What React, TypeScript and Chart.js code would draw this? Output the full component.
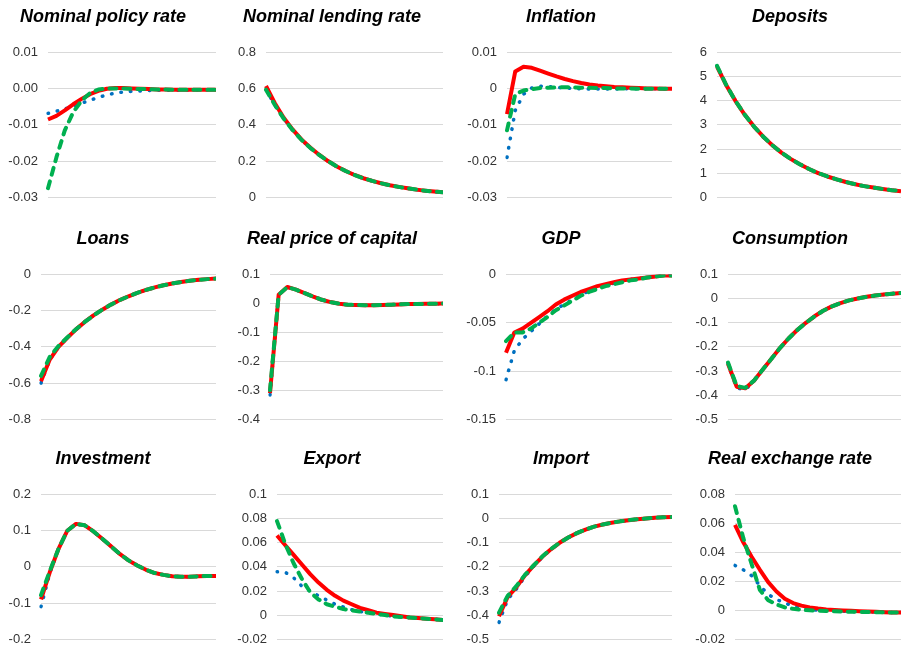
import React, { useEffect, useRef } from "react";
import { Chart, registerables } from "chart.js";

Chart.register(...registerables);

// ---------- categories (periods) ----------
const periods = ["1", "2", "3", "4", "5", "6", "7", "8", "9", "10", "11", "12", "13", "14", "15", "16", "17", "18", "19", "20", "21"];

// ---------- series values ----------
const policyRed = [-0.0085, -0.0075, -0.006, -0.0043, -0.0028, -0.0015, -0.0006, 0.0, 0.0002, 0.0002, 0.0001, 0.0, -0.0001, -0.0002, -0.0002, -0.0003, -0.0003, -0.0003, -0.0003, -0.0003, -0.0003];
const policyBlue = [-0.0068, -0.0062, -0.0056, -0.0048, -0.004, -0.0032, -0.0024, -0.0017, -0.0012, -0.0009, -0.0007, -0.0006, -0.0005, -0.0004, -0.0004, -0.0004, -0.0004, -0.0003, -0.0003, -0.0003, -0.0003];
const policyGreen = [-0.0275, -0.019, -0.0115, -0.0065, -0.0033, -0.0012, -0.0002, 0.0001, 0.0001, 0.0001, 0.0, -0.0001, -0.0001, -0.0002, -0.0002, -0.0003, -0.0003, -0.0003, -0.0003, -0.0003, -0.0003];

const lendingRed = [0.615, 0.52, 0.44, 0.375, 0.32, 0.275, 0.235, 0.2, 0.17, 0.145, 0.123, 0.105, 0.09, 0.077, 0.066, 0.057, 0.049, 0.042, 0.036, 0.031, 0.027];
const lendingBlue = [0.595, 0.51, 0.435, 0.372, 0.318, 0.273, 0.234, 0.2, 0.17, 0.145, 0.123, 0.105, 0.09, 0.077, 0.066, 0.057, 0.049, 0.042, 0.036, 0.031, 0.027];
const lendingGreen = [0.595, 0.51, 0.435, 0.372, 0.318, 0.273, 0.234, 0.2, 0.17, 0.145, 0.123, 0.105, 0.09, 0.077, 0.066, 0.057, 0.049, 0.042, 0.036, 0.031, 0.027];

const inflationRed = [-0.007, 0.0048, 0.0061, 0.0058, 0.005, 0.0042, 0.0034, 0.0027, 0.0021, 0.0016, 0.0012, 0.0009, 0.0007, 0.0005, 0.0004, 0.0003, 0.0002, 0.0001, 0.0001, 0.0, 0.0];
const inflationBlue = [-0.019, -0.006, -0.0015, 0.0002, 0.0007, 0.0006, 0.0004, 0.0002, 0.0001, 0.0, -0.0001, -0.0001, -0.0001, -0.0001, 0.0, 0.0, 0.0, 0.0, 0.0, 0.0, 0.0];
const inflationGreen = [-0.0115, -0.0015, -0.0005, -0.0001, 0.0002, 0.0003, 0.0004, 0.0004, 0.0004, 0.0003, 0.0003, 0.0002, 0.0002, 0.0001, 0.0001, 0.0001, 0.0, 0.0, 0.0, 0.0, 0.0];

const depositsRed = [5.42, 4.65, 4.0, 3.43, 2.94, 2.52, 2.16, 1.85, 1.59, 1.37, 1.17, 1.0, 0.86, 0.74, 0.63, 0.54, 0.46, 0.4, 0.34, 0.29, 0.25];
const depositsBlue = [5.45, 4.66, 4.0, 3.43, 2.94, 2.52, 2.16, 1.85, 1.59, 1.37, 1.17, 1.0, 0.86, 0.74, 0.63, 0.54, 0.46, 0.4, 0.34, 0.29, 0.25];
const depositsGreen = [5.45, 4.66, 4.0, 3.43, 2.94, 2.52, 2.16, 1.85, 1.59, 1.37, 1.17, 1.0, 0.86, 0.74, 0.63, 0.54, 0.46, 0.4, 0.34, 0.29, 0.25];

const loansRed = [-0.59, -0.47, -0.4, -0.35, -0.303, -0.262, -0.226, -0.194, -0.166, -0.141, -0.12, -0.101, -0.085, -0.071, -0.059, -0.049, -0.041, -0.034, -0.029, -0.025, -0.022];
const loansBlue = [-0.6, -0.47, -0.4, -0.35, -0.303, -0.262, -0.226, -0.194, -0.166, -0.141, -0.12, -0.101, -0.085, -0.071, -0.059, -0.049, -0.041, -0.034, -0.029, -0.025, -0.022];
const loansGreen = [-0.56, -0.455, -0.395, -0.348, -0.302, -0.262, -0.226, -0.194, -0.166, -0.141, -0.12, -0.101, -0.085, -0.071, -0.059, -0.049, -0.041, -0.034, -0.029, -0.025, -0.022];

const capitalRed = [-0.31, 0.03, 0.057, 0.048, 0.036, 0.024, 0.013, 0.005, -0.001, -0.004, -0.005, -0.006, -0.006, -0.005, -0.004, -0.003, -0.002, -0.002, -0.001, -0.001, 0.0];
const capitalBlue = [-0.316, 0.03, 0.057, 0.048, 0.036, 0.024, 0.013, 0.005, -0.001, -0.004, -0.005, -0.006, -0.006, -0.005, -0.004, -0.003, -0.002, -0.002, -0.001, -0.001, 0.0];
const capitalGreen = [-0.3, 0.03, 0.057, 0.048, 0.036, 0.024, 0.013, 0.005, -0.001, -0.004, -0.005, -0.006, -0.006, -0.005, -0.004, -0.003, -0.002, -0.002, -0.001, -0.001, 0.0];

const gdpRed = [-0.081, -0.06, -0.056, -0.05, -0.044, -0.038, -0.031, -0.026, -0.022, -0.018, -0.015, -0.012, -0.01, -0.008, -0.006, -0.005, -0.004, -0.003, -0.002, -0.001, -0.001];
const gdpBlue = [-0.109, -0.079, -0.067, -0.059, -0.051, -0.043, -0.036, -0.031, -0.026, -0.021, -0.017, -0.014, -0.011, -0.009, -0.007, -0.005, -0.004, -0.003, -0.002, -0.001, -0.001];
const gdpGreen = [-0.069, -0.06, -0.06, -0.056, -0.05, -0.044, -0.037, -0.032, -0.027, -0.022, -0.018, -0.015, -0.012, -0.01, -0.008, -0.006, -0.005, -0.003, -0.002, -0.001, -0.001];

const consumptionRed = [-0.27, -0.365, -0.372, -0.34, -0.295, -0.25, -0.205, -0.165, -0.13, -0.1, -0.073, -0.05, -0.032, -0.018, -0.007, 0.001, 0.008, 0.013, 0.017, 0.021, 0.024];
const consumptionBlue = [-0.27, -0.37, -0.378, -0.342, -0.295, -0.25, -0.205, -0.165, -0.13, -0.1, -0.073, -0.05, -0.032, -0.018, -0.007, 0.001, 0.008, 0.013, 0.017, 0.021, 0.024];
const consumptionGreen = [-0.265, -0.362, -0.37, -0.34, -0.295, -0.25, -0.205, -0.165, -0.13, -0.1, -0.073, -0.05, -0.032, -0.018, -0.007, 0.001, 0.008, 0.013, 0.017, 0.021, 0.024];

const investmentRed = [-0.09, -0.015, 0.05, 0.1, 0.119, 0.115, 0.098, 0.078, 0.057, 0.036, 0.018, 0.004, -0.008, -0.017, -0.022, -0.026, -0.027, -0.027, -0.026, -0.025, -0.025];
const investmentBlue = [-0.11, -0.018, 0.05, 0.1, 0.119, 0.115, 0.098, 0.078, 0.057, 0.036, 0.018, 0.004, -0.008, -0.017, -0.022, -0.026, -0.027, -0.027, -0.026, -0.025, -0.025];
const investmentGreen = [-0.078, -0.012, 0.05, 0.1, 0.119, 0.115, 0.098, 0.078, 0.057, 0.036, 0.018, 0.004, -0.008, -0.017, -0.022, -0.026, -0.027, -0.027, -0.026, -0.025, -0.025];

const exportRed = [0.066, 0.058, 0.05, 0.042, 0.034, 0.027, 0.021, 0.016, 0.012, 0.009, 0.006, 0.004, 0.002, 0.001, 0.0, -0.001, -0.002, -0.0025, -0.003, -0.0035, -0.004];
const exportBlue = [0.036, 0.0355, 0.031, 0.024, 0.02, 0.016, 0.0125, 0.009, 0.0067, 0.0045, 0.003, 0.0018, 0.001, 0.0, -0.001, -0.0015, -0.002, -0.0025, -0.003, -0.0035, -0.004];
const exportGreen = [0.078, 0.059, 0.043, 0.03, 0.019, 0.013, 0.009, 0.007, 0.005, 0.004, 0.003, 0.002, 0.001, 0.0, -0.001, -0.0015, -0.002, -0.0025, -0.003, -0.0035, -0.004];

const importRed = [-0.405, -0.325, -0.285, -0.235, -0.195, -0.158, -0.127, -0.1, -0.078, -0.06, -0.045, -0.033, -0.024, -0.017, -0.011, -0.006, -0.002, 0.001, 0.004, 0.006, 0.007];
const importBlue = [-0.43, -0.335, -0.292, -0.24, -0.198, -0.16, -0.128, -0.1, -0.078, -0.06, -0.045, -0.033, -0.024, -0.017, -0.011, -0.006, -0.002, 0.001, 0.004, 0.006, 0.007];
const importGreen = [-0.39, -0.32, -0.28, -0.233, -0.194, -0.157, -0.126, -0.1, -0.078, -0.06, -0.045, -0.033, -0.024, -0.017, -0.011, -0.006, -0.002, 0.001, 0.004, 0.006, 0.007];

const rerRed = [0.059, 0.047, 0.037, 0.028, 0.0195, 0.013, 0.008, 0.005, 0.0032, 0.002, 0.0012, 0.0006, 0.0002, -0.0001, -0.0004, -0.0007, -0.0009, -0.0011, -0.0013, -0.0015, -0.0016];
const rerBlue = [0.031, 0.028, 0.024, 0.017, 0.011, 0.0075, 0.005, 0.003, 0.0015, 0.0005, 0.0, -0.0003, -0.0005, -0.0007, -0.0009, -0.001, -0.0011, -0.0012, -0.0013, -0.0015, -0.0016];
const rerGreen = [0.072, 0.05, 0.032, 0.014, 0.007, 0.004, 0.002, 0.001, 0.0003, 0.0, -0.0003, -0.0005, -0.0007, -0.0009, -0.001, -0.0011, -0.0012, -0.0013, -0.0014, -0.0015, -0.0016];

// ---------- panel titles & axis ranges ----------
const titles = [
  "Nominal policy rate", "Nominal lending rate", "Inflation", "Deposits",
  "Loans", "Real price of capital", "GDP", "Consumption",
  "Investment", "Export", "Import", "Real exchange rate",
];
const axisMin = [-0.03, 0, -0.03, 0, -0.8, -0.4, -0.15, -0.5, -0.2, -0.02, -0.5, -0.02];
const axisMax = [0.01, 0.8, 0.01, 6, 0, 0.1, 0, 0.1, 0.2, 0.1, 0.1, 0.08];
const axisStep = [0.01, 0.2, 0.01, 1, 0.2, 0.1, 0.05, 0.1, 0.1, 0.02, 0.1, 0.02];
const axisDecimals = [2, -1, -1, -1, -1, -1, -1, -1, -1, -1, -1, -1];

const redSeries = [policyRed, lendingRed, inflationRed, depositsRed, loansRed, capitalRed, gdpRed, consumptionRed, investmentRed, exportRed, importRed, rerRed];
const blueSeries = [policyBlue, lendingBlue, inflationBlue, depositsBlue, loansBlue, capitalBlue, gdpBlue, consumptionBlue, investmentBlue, exportBlue, importBlue, rerBlue];
const greenSeries = [policyGreen, lendingGreen, inflationGreen, depositsGreen, loansGreen, capitalGreen, gdpGreen, consumptionGreen, investmentGreen, exportGreen, importGreen, rerGreen];

// ---------- layout ----------
const colLeft = [-10, 221, 450, 679];
const colWidth = [226, 222, 222, 222];
const rowTop = [1, 223, 443];
const rowHeight = [214, 214, 214];
const gridStart = [
  [48, 266, 507, 717],
  [41, 270, 506, 728],
  [41, 277, 499, 735],
];

const FONT = "'Liberation Sans', Arial, Helvetica, sans-serif";

function Panel({ idx }: { idx: number }) {
  const ref = useRef<HTMLCanvasElement | null>(null);
  const row = Math.floor(idx / 4);
  const col = idx % 4;
  const left = colLeft[col];
  const width = colWidth[col];
  const top = rowTop[row];
  const height = rowHeight[row];
  const yWidth = gridStart[row][col] - left;

  useEffect(() => {
    if (!ref.current) return;
    const dec = axisDecimals[idx];
    const chart = new Chart(ref.current, {
      type: "line",
      data: {
        labels: periods,
        datasets: [
          {
            label: "green",
            data: greenSeries[idx],
            borderColor: "#00b050",
            borderWidth: 4,
            borderDash: [7, 7],
            borderCapStyle: "round",
            borderJoinStyle: "round",
            pointRadius: 0,
            fill: false,
            tension: 0,
          },
          {
            label: "red",
            data: redSeries[idx],
            borderColor: "#ff0000",
            borderWidth: 4,
            borderCapStyle: "butt",
            borderJoinStyle: "round",
            pointRadius: 0,
            fill: false,
            tension: 0,
          },
          {
            label: "blue",
            data: blueSeries[idx],
            borderColor: "#0070c0",
            borderWidth: 3.5,
            borderDash: [0.5, 9],
            borderCapStyle: "round",
            borderJoinStyle: "round",
            pointRadius: 0,
            fill: false,
            tension: 0,
          },
        ],
      },
      options: {
        animation: false,
        responsive: false,
        maintainAspectRatio: false,
        events: [],
        layout: { padding: 0 },
        plugins: {
          legend: { display: false },
          tooltip: { enabled: false },
          title: {
            display: true,
            text: titles[idx],
            color: "#000000",
            font: { family: FONT, size: 18, weight: "bold", style: "italic", lineHeight: 1.2 },
            padding: { top: 5, bottom: 25 },
          },
        },
        scales: {
          x: { display: false },
          y: {
            min: axisMin[idx],
            max: axisMax[idx],
            border: { display: false },
            grid: { color: "#d9d9d9", lineWidth: 1, drawTicks: false },
            ticks: {
              stepSize: axisStep[idx],
              autoSkip: false,
              padding: 10,
              color: "#333333",
              font: { family: FONT, size: 13 },
              callback: (v: any) => {
                const n = Math.round(Number(v) * 1e6) / 1e6;
                if (dec >= 0) return n.toFixed(dec);
                return String(n);
              },
            },
            afterFit: (scale: any) => {
              scale.width = yWidth;
            },
          },
        },
      },
    });
    return () => chart.destroy();
  }, [idx]);

  return (
    <canvas
      ref={ref}
      width={width}
      height={height}
      style={{ position: "absolute", left, top, width, height }}
    />
  );
}

export default function App() {
  const idxs = [0, 1, 2, 3, 4, 5, 6, 7, 8, 9, 10, 11];
  return (
    <div
      style={{
        position: "absolute",
        left: 0,
        top: 0,
        width: 901,
        height: 647,
        overflow: "hidden",
        background: "#ffffff",
      }}
    >
      {idxs.map((i) => (
        <Panel key={i} idx={i} />
      ))}
    </div>
  );
}
